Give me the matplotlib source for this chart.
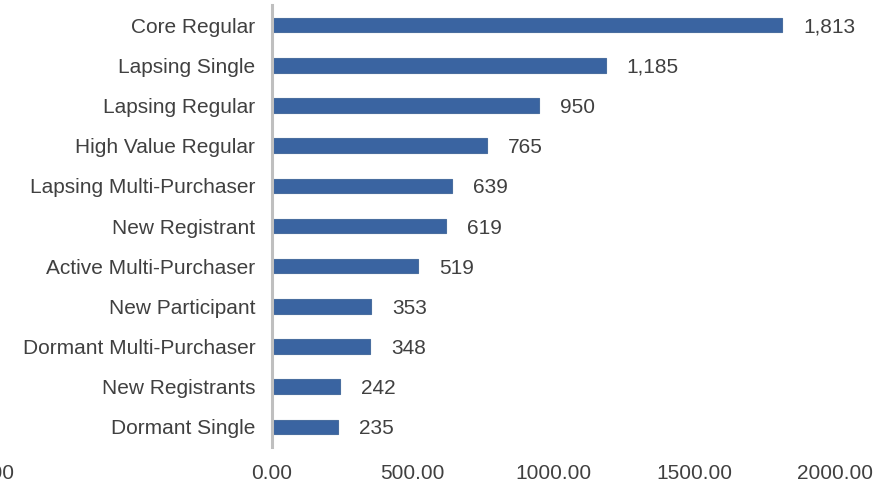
import matplotlib
matplotlib.use("Agg")
import matplotlib.pyplot as plt
from matplotlib.ticker import FixedLocator, FuncFormatter
from matplotlib.transforms import ScaledTranslation

# Segment sizes
segments = [
    "Dormant Single",
    "New Registrants",
    "Dormant Multi-Purchaser",
    "New Participant",
    "Active Multi-Purchaser",
    "New Registrant",
    "Lapsing Multi-Purchaser",
    "High Value Regular",
    "Lapsing Regular",
    "Lapsing Single",
    "Core Regular",
]
counts = [235, 242, 348, 353, 519, 619, 639, 765, 950, 1185, 1813]
x_ticks = [-1000, 0, 500, 1000, 1500, 2000]

plt.rcParams["font.family"] = ["Liberation Sans", "DejaVu Sans"]
text_color = "#404040"

fig = plt.figure(figsize=(8.91, 4.83), dpi=100)
ax = fig.add_axes([-9.5 / 891, 36 / 483, 900.8 / 891, 442 / 483])

ypos = list(range(len(segments)))
ax.barh(ypos, counts, height=0.36, color="#3A64A1", edgecolor="#4A6E9F",
        linewidth=0.8, zorder=2)

for y, v in zip(ypos, counts):
    ax.annotate(f"{v:,}", xy=(v, y), xytext=(15, -1.5), textcoords="offset points",
                ha="left", va="center", fontsize=15, color=text_color)

ax.set_xlim(-1000, 2200)
ax.set_ylim(-0.5, len(segments) - 0.5)

ax.set_yticks(ypos)
ax.set_yticklabels(segments)
ax.xaxis.set_major_locator(FixedLocator(x_ticks))
ax.xaxis.set_major_formatter(FuncFormatter(lambda v, p: f"{v:.2f}"))

ax.tick_params(axis="both", length=0, labelsize=15, colors=text_color)
ax.tick_params(axis="y", pad=12)
ax.tick_params(axis="x", pad=12)

for side in ("top", "right", "bottom"):
    ax.spines[side].set_visible(False)
ax.spines["left"].set_position(("data", 0))
ax.spines["left"].set_color("#BFBFBF")
ax.spines["left"].set_linewidth(2.2)
ax.spines["left"].set_zorder(3)

# the leftmost tick label sits partly past the figure edge
fig.canvas.draw()
first = ax.xaxis.get_major_ticks()[0].label1
first.set_transform(first.get_transform()
                    + ScaledTranslation(-18 / 100, 0, fig.dpi_scale_trans))

fig.savefig("out.png", dpi=100)
